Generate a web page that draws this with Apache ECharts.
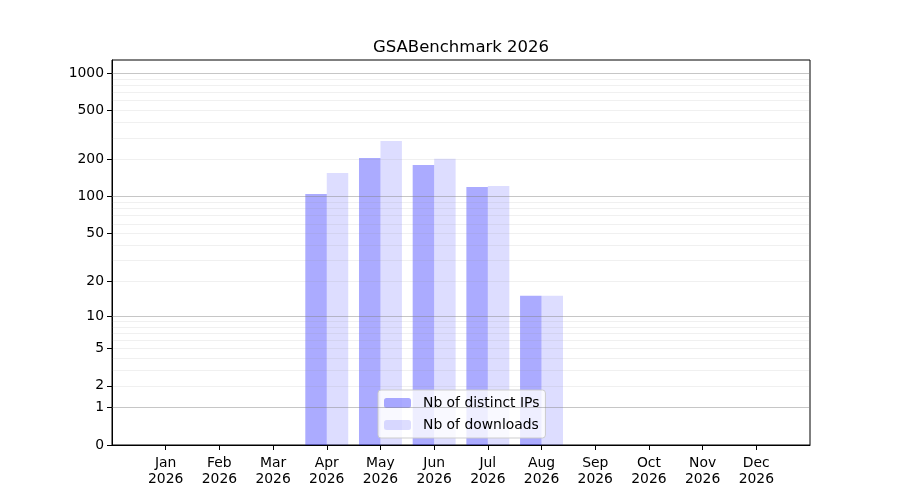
<!doctype html>
<html>
    <head>
        <meta charset="utf-8">
        <title>GSABenchmark 2026</title>
        <style>
            html, body { margin: 0; padding: 0; background: #fff; }
            #main { width: 900px; height: 500px; }
        </style>
    </head>
    <body>
        <div id="main"></div>
        <script src="https://cdn.jsdelivr.net/npm/echarts@6/dist/echarts.min.js"></script>
        <script>
            var months = ['Jan', 'Feb', 'Mar', 'Apr', 'May', 'Jun', 'Jul', 'Aug', 'Sep', 'Oct', 'Nov', 'Dec'];
            var year = '2026';
            var distinctIps = [0, 0, 0, 105, 206, 181, 120, 15, 0, 0, 0, 0];
            var downloads = [0, 0, 0, 156, 283, 203, 122, 15, 0, 0, 0, 0];
            var yTicks = [0, 1, 2, 5, 10, 20, 50, 100, 200, 500, 1000];
            var majorGrid = [1, 10, 100, 1000];
            var minorGrid = [2, 3, 4, 5, 6, 7, 8, 9, 20, 30, 40, 50, 60, 70, 80, 90, 200, 300, 400, 500, 600, 700, 800, 900];

            // y axis is log10(1 + v): a log axis fed with v + 1
            function shift(v) { return v + 1; }
            // one empty slot on each side, like the xlim margin
            function pad(arr) { return ['-'].concat(arr.map(shift), ['-']); }

            var cats = [''].concat(months, ['']);
            var font = 'DejaVu Sans';

            var gridLines = majorGrid.map(function (v) {
                return { yAxis: shift(v), lineStyle: { color: 'rgba(128,128,128,0.45)', width: 1, type: 'solid' } };
            }).concat(minorGrid.map(function (v) {
                return { yAxis: shift(v), lineStyle: { color: 'rgba(128,128,128,0.12)', width: 1, type: 'solid' } };
            }));

            var chart = echarts.init(document.getElementById('main'));

            chart.setOption({
                animation: false,
                textStyle: { fontFamily: font },
                title: {
                    text: 'GSABenchmark ' + year,
                    left: 373,
                    top: 39,
                    padding: 0,
                    textStyle: { fontFamily: font, fontSize: 16.5, fontWeight: 'normal', color: '#000' }
                },
                legend: {
                    orient: 'vertical',
                    left: 378,
                    bottom: 62,
                    itemWidth: 27,
                    itemHeight: 10,
                    itemGap: 8,
                    padding: [6, 6, 6, 6],
                    backgroundColor: 'rgba(255,255,255,0.8)',
                    borderColor: 'rgba(200,200,200,0.9)',
                    borderWidth: 1,
                    borderRadius: 3,
                    textStyle: { fontFamily: font, fontSize: 13.9, color: '#000', padding: [0, 0, 0, 7] },
                    data: ['Nb of distinct IPs', 'Nb of downloads']
                },
                grid: {
                    left: 112,
                    right: 90,
                    top: 60,
                    bottom: 55,
                    show: true,
                    borderColor: '#000',
                    borderWidth: 1
                },
                xAxis: {
                    type: 'category',
                    data: cats,
                    boundaryGap: false,
                    axisLine: { lineStyle: { color: '#000', width: 1 } },
                    axisTick: {
                        length: 5,
                        lineStyle: { color: '#000' },
                        interval: function (idx, val) { return val !== ''; }
                    },
                    axisLabel: {
                        interval: 0,
                        color: '#000',
                        fontFamily: font,
                        fontSize: 13.9,
                        lineHeight: 16,
                        margin: 10,
                        formatter: function (val) { return val ? val + '\n' + year : ''; }
                    },
                    splitLine: { show: false }
                },
                yAxis: {
                    type: 'log',
                    logBase: 10,
                    min: 1,
                    max: 1279,
                    axisLine: { show: true, lineStyle: { color: '#000', width: 1 } },
                    axisTick: {
                        show: true,
                        length: 5,
                        lineStyle: { color: '#000' },
                        customValues: yTicks.map(shift)
                    },
                    axisLabel: {
                        color: '#000',
                        fontFamily: font,
                        fontSize: 13.9,
                        margin: 8,
                        customValues: yTicks.map(shift),
                        formatter: function (v) { return String(Math.round(v - 1)); }
                    },
                    splitLine: { show: false },
                    minorTick: { show: false },
                    minorSplitLine: { show: false }
                },
                series: [
                    {
                        name: 'Nb of distinct IPs',
                        type: 'bar',
                        data: pad(distinctIps),
                        barWidth: '40%',
                        barGap: '0%',
                        itemStyle: { color: 'rgba(0,0,255,0.33)' },
                        z: 2
                    },
                    {
                        name: 'Nb of downloads',
                        type: 'bar',
                        data: pad(downloads),
                        barWidth: '40%',
                        barGap: '0%',
                        itemStyle: { color: 'rgba(0,0,255,0.134)' },
                        z: 2
                    },
                    {
                        name: 'grid',
                        type: 'line',
                        data: [],
                        z: 3,
                        silent: true,
                        markLine: {
                            silent: true,
                            symbol: 'none',
                            label: { show: false },
                            data: gridLines
                        }
                    }
                ]
            });

            window.addEventListener('resize', function () {
                chart.resize();
            });
        </script>
    </body>
</html>
